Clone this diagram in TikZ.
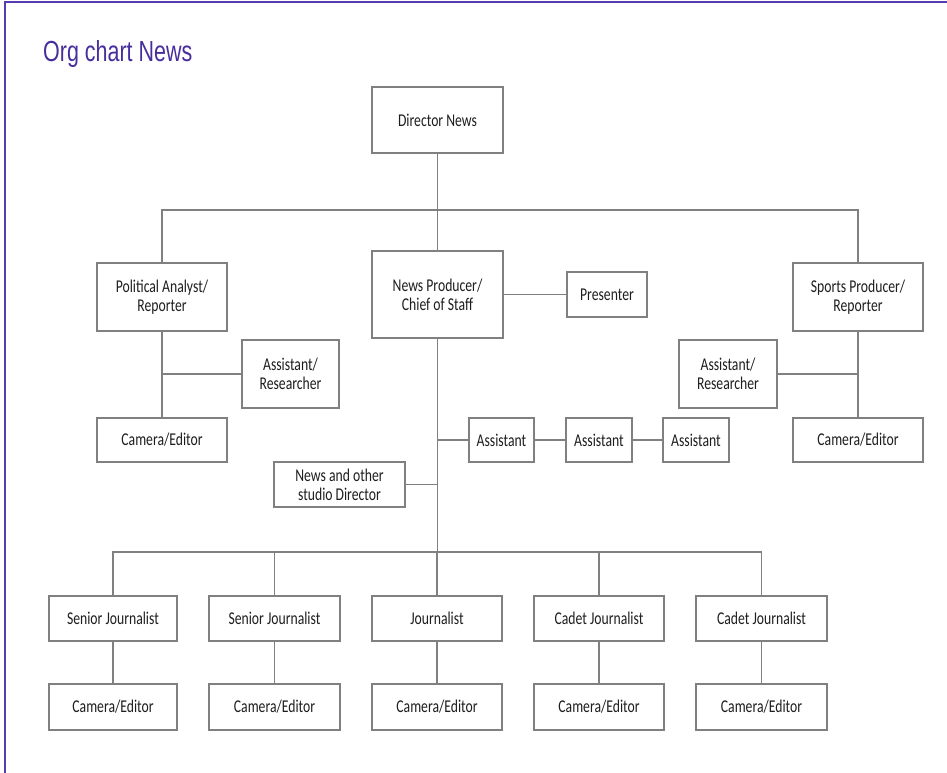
\documentclass[tikz,border=0pt]{standalone}
\usepackage{fontspec}
\newfontfamily\boxfont[FakeStretch=0.76]{Carlito}
\newfontfamily\titlefont[FakeStretch=0.74]{Liberation Sans}
\definecolor{framepurple}{RGB}{88,58,178}
\definecolor{titlepurple}{RGB}{72,46,156}
\definecolor{linegray}{RGB}{128,128,128}
\definecolor{textgray}{RGB}{30,30,30}
\tikzset{
  orgbox/.style={draw=linegray, line width=1.3pt, fill=white, rectangle,
    inner sep=0pt, align=center, text=textgray,
    font=\boxfont\fontsize{18}{19}\selectfont},
  link/.style={draw=linegray, line width=1.1pt}
}
\begin{document}
\begin{tikzpicture}[x=1pt,y=-1pt]
\useasboundingbox (0,0) rectangle (947,773);
\fill[white] (0,0) rectangle (947,773);
% page frame (top and left edges)
\draw[framepurple, line width=2pt] (4.5,773) -- (4.5,2.5) -- (947,2.5);
% heading
\node[anchor=base west, inner sep=0pt, text=titlepurple,
  font=\titlefont\fontsize{29}{32}\selectfont] (title) at (43,62) {Org chart News};

% top level
\node[orgbox, minimum width=131pt, minimum height=66pt] (dir) at (437.5,120) {Director News};
\node[orgbox, minimum width=130pt, minimum height=68pt] (pol) at (162,297) {Political Analyst/\\Reporter};
\node[orgbox, minimum width=131pt, minimum height=87pt] (news) at (437.5,294.5) {News Producer/\\Chief of Staff};
\node[orgbox, minimum width=80pt, minimum height=45pt] (pres) at (607,294.5) {Presenter};
\node[orgbox, minimum width=130pt, minimum height=68pt] (sports) at (858,297) {Sports Producer/\\Reporter};

% political branch
\node[orgbox, minimum width=97pt, minimum height=68pt] (aresL) at (290.5,374) {Assistant/\\Researcher};
\node[orgbox, minimum width=130pt, minimum height=44pt] (camL) at (162,440) {Camera/Editor};

% sports branch
\node[orgbox, minimum width=98pt, minimum height=68pt] (aresR) at (728,374) {Assistant/\\Researcher};
\node[orgbox, minimum width=130pt, minimum height=44pt] (camR) at (858,440) {Camera/Editor};

% news branch
\node[orgbox, minimum width=65pt, minimum height=44pt] (as1) at (501.5,440) {Assistant};
\node[orgbox, minimum width=66pt, minimum height=44pt] (as2) at (599,440) {Assistant};
\node[orgbox, minimum width=66pt, minimum height=44pt] (as3) at (696,440) {Assistant};
\node[orgbox, minimum width=131pt, minimum height=45pt] (studio) at (339.5,484.5) {News and other\\studio Director};

% journalists
\node[orgbox, minimum width=128pt, minimum height=45pt] (sj1) at (113,618.5) {Senior Journalist};
\node[orgbox, minimum width=131pt, minimum height=45pt] (sj2) at (274.5,618.5) {Senior Journalist};
\node[orgbox, minimum width=130pt, minimum height=45pt] (jo) at (437,618.5) {Journalist};
\node[orgbox, minimum width=130pt, minimum height=45pt] (cj1) at (599,618.5) {Cadet Journalist};
\node[orgbox, minimum width=131pt, minimum height=45pt] (cj2) at (761.5,618.5) {Cadet Journalist};

\node[orgbox, minimum width=128pt, minimum height=46pt] (ce1) at (113,707) {Camera/Editor};
\node[orgbox, minimum width=131pt, minimum height=46pt] (ce2) at (274.5,707) {Camera/Editor};
\node[orgbox, minimum width=130pt, minimum height=46pt] (ce3) at (437,707) {Camera/Editor};
\node[orgbox, minimum width=130pt, minimum height=46pt] (ce4) at (599,707) {Camera/Editor};
\node[orgbox, minimum width=131pt, minimum height=46pt] (ce5) at (761.5,707) {Camera/Editor};

% bus junctions
\coordinate (bus1) at (437.5,210);
\coordinate (bus2) at (437.5,552);

% connectors: top tier
\draw[link] (dir.south) -- (bus1) -- (news.north);
\draw[link] (pol.north) -- (pol.north |- bus1) -- (sports.north |- bus1) -- (sports.north);
\draw[link] (news.east) -- (pres.west);

% political and sports branches
\draw[link] (pol.south) -- (camL.north);
\draw[link] (aresL.west) -- (aresL.west -| pol.south);
\draw[link] (sports.south) -- (camR.north);
\draw[link] (aresR.east) -- (aresR.east -| sports.south);

% news trunk
\draw[link] (news.south) -- (bus2);
\draw[link] (as1.west -| news.south) -- (as1.west);
\draw[link] (as1.east) -- (as2.west);
\draw[link] (as2.east) -- (as3.west);
\draw[link] (studio.east) -- (studio.east -| news.south);

% journalist bus
\draw[link] (sj1.north) -- (sj1.north |- bus2) -- (cj2.north |- bus2) -- (cj2.north);
\draw[link] (sj2.north) -- (sj2.north |- bus2);
\draw[link] (jo.north) -- (jo.north |- bus2);
\draw[link] (cj1.north) -- (cj1.north |- bus2);

% camera links
\draw[link] (sj1.south) -- (ce1.north);
\draw[link] (sj2.south) -- (ce2.north);
\draw[link] (jo.south) -- (ce3.north);
\draw[link] (cj1.south) -- (ce4.north);
\draw[link] (cj2.south) -- (ce5.north);
\end{tikzpicture}
\end{document}
